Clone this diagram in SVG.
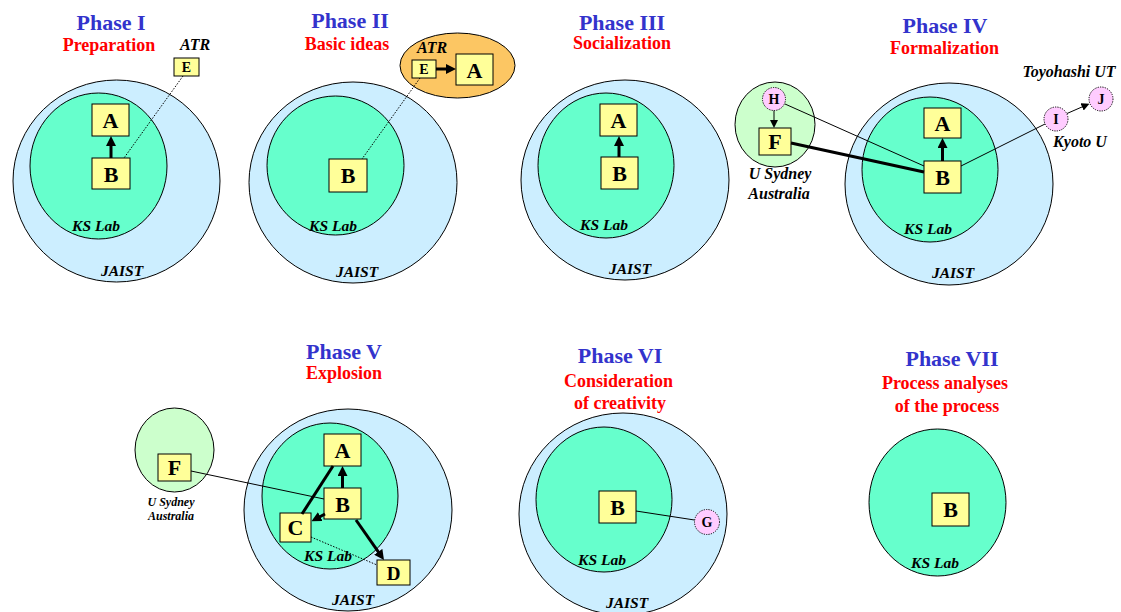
<svg xmlns="http://www.w3.org/2000/svg" width="1121" height="612" viewBox="0 0 1121 612">
<style>
text{font-family:"Liberation Serif","Times New Roman",serif;font-weight:bold;text-anchor:middle}
.t{fill:#3333cc;font-size:22px}
.s{fill:#ff0000;font-size:18px}
.lb{font-style:italic;font-size:15.5px;fill:#000}
.lb2{font-style:italic;font-size:16px;fill:#000}
.sm{font-style:italic;font-size:12px;fill:#000}
.outer{fill:#cceeff;stroke:#000;stroke-width:1}
.inner{fill:#66ffcc;stroke:#000;stroke-width:1}
.syd{fill:#ccffcc;stroke:#000;stroke-width:1}
.box{fill:#ffff99;stroke:#000;stroke-width:1}
.pk{fill:#ffccff;stroke:#000;stroke-width:1;stroke-dasharray:1.2,1.2}
.L{font-size:22px;fill:#000}
.Ls{font-size:14px;fill:#000}
.thin{stroke:#000;stroke-width:1;fill:none}
.thick{stroke:#000;stroke-width:3;fill:none}
.dot{stroke:#000;stroke-width:1;fill:none;stroke-dasharray:1.5,1.5}
</style>
<defs>
<marker id="ah" markerUnits="userSpaceOnUse" markerWidth="10" markerHeight="10" refX="2" refY="5" orient="auto"><path d="M0,0 L10,5 L0,10 z" fill="#000"/></marker>
<marker id="ahs" markerUnits="userSpaceOnUse" markerWidth="8" markerHeight="8" refX="1" refY="4" orient="auto"><path d="M0,0 L8,4 L0,8 z" fill="#000"/></marker>
</defs>
<rect width="1121" height="612" fill="#fff"/>

<!-- Phase I -->
<g id="phase1">
<text class="t" x="111" y="30">Phase I</text>
<text class="s" x="109" y="51">Preparation</text>
<ellipse class="outer" cx="116.5" cy="181" rx="103.5" ry="101"/>
<ellipse class="inner" cx="98.5" cy="166" rx="68.5" ry="73"/>
<text class="lb" x="96" y="231">KS Lab</text>
<text class="lb" x="122" y="276">JAIST</text>
<text class="lb2" x="195" y="50">ATR</text>
</g>
<g id="p1-A"><rect class="box" x="92" y="104" width="37" height="32"/><text class="L" x="110.5" y="128">A</text></g>
<g id="p1-B"><rect class="box" x="92" y="158" width="38" height="31"/><text class="L" x="111" y="182">B</text></g>
<g id="p1-E"><rect class="box" x="174" y="58" width="25" height="18"/><text class="Ls" x="186.5" y="72">E</text></g>

<!-- Phase II -->
<g id="phase2">
<text class="t" x="350" y="28">Phase II</text>
<text class="s" x="347" y="50">Basic ideas</text>
<ellipse class="outer" cx="353" cy="182.5" rx="104" ry="100.5"/>
<ellipse class="inner" cx="335.5" cy="165.5" rx="68.5" ry="69.5"/>
<text class="lb" x="333" y="231">KS Lab</text>
<text class="lb" x="357" y="277">JAIST</text>
</g>
<g id="p2-ATR"><ellipse cx="457.5" cy="65.5" rx="57.5" ry="32.5" fill="#fcc663" stroke="#000"/><text class="lb2" x="432" y="53">ATR</text></g>
<g id="p2-B"><rect class="box" x="329" y="159" width="38" height="33"/><text class="L" x="348" y="183">B</text></g>
<g id="p2-E"><rect class="box" x="412" y="60" width="24" height="18"/><text class="Ls" x="424" y="74">E</text></g>
<g id="p2-A"><rect class="box" x="456" y="54" width="37" height="31"/><text class="L" x="474.5" y="78">A</text></g>

<!-- Phase III -->
<g id="phase3">
<text class="t" x="622" y="30">Phase III</text>
<text class="s" x="622" y="49">Socialization</text>
<ellipse class="outer" cx="625" cy="180" rx="104" ry="100"/>
<ellipse class="inner" cx="606" cy="165.5" rx="68" ry="72.5"/>
<text class="lb" x="604" y="230">KS Lab</text>
<text class="lb" x="630" y="274">JAIST</text>
</g>
<g id="p3-A"><rect class="box" x="600" y="104" width="37" height="32"/><text class="L" x="618.5" y="128">A</text></g>
<g id="p3-B"><rect class="box" x="601" y="157" width="37" height="32"/><text class="L" x="619.5" y="181">B</text></g>

<!-- Phase IV -->
<g id="phase4">
<text class="t" x="945" y="33">Phase IV</text>
<text class="s" x="944.5" y="54">Formalization</text>
<ellipse class="outer" cx="949" cy="184" rx="104" ry="101"/>
<ellipse class="inner" cx="930" cy="169.5" rx="68" ry="72.5"/>
<text class="lb" x="928" y="234">KS Lab</text>
<text class="lb" x="953" y="278">JAIST</text>
<text class="lb2" x="1069" y="77">Toyohashi UT</text>
<text class="lb2" x="1080" y="147">Kyoto U</text>
</g>
<g id="p4-sydney"><ellipse class="syd" cx="775" cy="124.5" rx="40" ry="42.5"/><text class="lb2" x="780" y="179">U Sydney</text><text class="lb2" x="779" y="199">Australia</text></g>
<g id="p4-A"><rect class="box" x="924" y="108" width="37" height="30"/><text class="L" x="942.5" y="131">A</text></g>
<g id="p4-B"><rect class="box" x="924" y="161" width="37" height="32"/><text class="L" x="942.5" y="185">B</text></g>
<g id="p4-F"><rect class="box" x="759" y="128" width="32" height="27"/><text class="L" x="775" y="149">F</text></g>
<g id="p4-H"><circle class="pk" cx="774" cy="99" r="11.5"/><text class="Ls" x="774" y="104">H</text></g>
<g id="p4-I"><circle class="pk" cx="1056" cy="119" r="12"/><text class="Ls" x="1056" y="124">I</text></g>
<g id="p4-J"><circle class="pk" cx="1101" cy="99" r="12"/><text class="Ls" x="1101" y="104">J</text></g>

<!-- Phase V -->
<g id="phase5">
<text class="t" x="344" y="359">Phase V</text>
<text class="s" x="344" y="379">Explosion</text>
<ellipse class="outer" cx="348" cy="510" rx="104" ry="101"/>
<ellipse class="inner" cx="330" cy="496" rx="68" ry="73"/>
<text class="lb" x="328" y="561">KS Lab</text>
<text class="lb" x="353" y="605">JAIST</text>
</g>
<g id="p5-sydney"><ellipse class="syd" cx="174.5" cy="450" rx="39.5" ry="42"/><text class="sm" x="171" y="506">U Sydney</text><text class="sm" x="171" y="520">Australia</text></g>
<g id="p5-F"><rect class="box" x="158" y="454" width="33" height="27"/><text class="L" x="174.5" y="475">F</text></g>
<g id="p5-A"><rect class="box" x="324" y="434" width="37" height="32"/><text class="L" x="342.5" y="458">A</text></g>
<g id="p5-B"><rect class="box" x="324" y="488" width="37" height="31"/><text class="L" x="342.5" y="512">B</text></g>
<g id="p5-C"><rect class="box" x="280" y="513" width="31" height="29"/><text class="L" x="295.5" y="535">C</text></g>
<g id="p5-D"><rect class="box" x="377" y="560" width="33" height="25"/><text class="L" x="393.5" y="580" style="font-size:19px">D</text></g>

<!-- Phase VI -->
<g id="phase6">
<text class="t" x="620" y="363">Phase VI</text>
<text class="s" x="618.5" y="387">Consideration</text>
<text class="s" x="620" y="409">of creativity</text>
<ellipse class="outer" cx="623" cy="514" rx="104" ry="101"/>
<ellipse class="inner" cx="604" cy="499.5" rx="68" ry="72.5"/>
<text class="lb" x="602" y="565">KS Lab</text>
<text class="lb" x="627" y="608">JAIST</text>
</g>
<g id="p6-B"><rect class="box" x="599" y="491" width="37" height="32"/><text class="L" x="617.5" y="515">B</text></g>
<g id="p6-G"><circle class="pk" cx="707" cy="522" r="12.5"/><text class="Ls" x="707" y="527">G</text></g>

<!-- Phase VII -->
<g id="phase7">
<text class="t" x="952" y="366">Phase VII</text>
<text class="s" x="945" y="389">Process analyses</text>
<text class="s" x="947" y="412">of the process</text>
<ellipse class="inner" cx="937.5" cy="502.5" rx="68.5" ry="73.5"/>
<text class="lb" x="935" y="568">KS Lab</text>
</g>
<g id="p7-B"><rect class="box" x="932" y="493" width="37" height="33"/><text class="L" x="950.5" y="517">B</text></g>

<!-- connectors -->
<g id="connectors">
<line class="thick" x1="111" y1="158" x2="111" y2="144" marker-end="url(#ah)"/>
<line class="dot" x1="183" y1="76" x2="124" y2="158"/>
<line class="thick" x1="436" y1="69" x2="448" y2="69" marker-end="url(#ah)"/>
<line class="dot" x1="420" y1="78" x2="362" y2="159"/>
<line class="thick" x1="619" y1="157" x2="619" y2="144" marker-end="url(#ah)"/>
<line class="thick" x1="942.5" y1="161" x2="942.5" y2="146" marker-end="url(#ah)"/>
<line class="thin" x1="774" y1="110.5" x2="774" y2="121" marker-end="url(#ahs)"/>
<line class="thin" x1="785" y1="104" x2="924" y2="166"/>
<line class="thick" x1="791" y1="143" x2="924" y2="172"/>
<line class="thin" x1="961" y1="166" x2="1045" y2="124"/>
<line class="thin" x1="1067" y1="113.5" x2="1083" y2="106.5" marker-end="url(#ahs)"/>
<line class="thin" x1="191" y1="471" x2="324" y2="499"/>
<line class="thick" x1="342.5" y1="488" x2="342.5" y2="474" marker-end="url(#ah)"/>
<line class="thick" x1="325" y1="514" x2="318.5" y2="517.5" marker-end="url(#ah)"/>
<line class="thick" x1="302" y1="514" x2="333" y2="466"/>
<line class="thick" x1="356" y1="520" x2="379.4" y2="553.4" marker-end="url(#ah)"/>
<line class="dot" x1="311" y1="537" x2="377" y2="565"/>
<line class="thin" x1="636" y1="511" x2="694.5" y2="520"/>
</g>
</svg>
